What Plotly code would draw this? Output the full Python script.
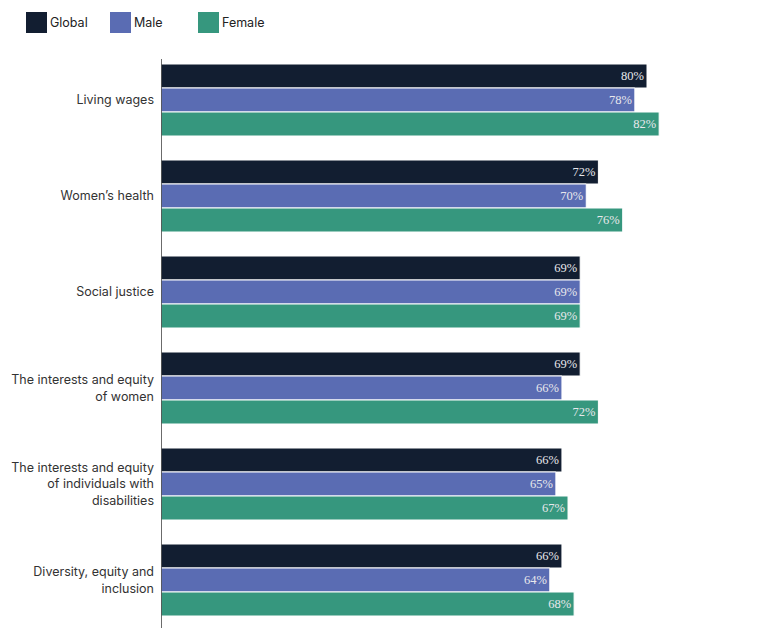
import plotly.graph_objects as go

categories = [
    "Living wages",
    "Women’s health",
    "Social justice",
    "The interests and equity<br>of women",
    "The interests and equity<br>of individuals with<br>disabilities",
    "Diversity, equity and<br>inclusion",
]
series_names = ["Global", "Male", "Female"]
global_vals = [80, 72, 69, 69, 66, 66]
male_vals = [78, 70, 69, 66, 65, 64]
female_vals = [82, 76, 69, 72, 67, 68]
colors = ["#121e31", "#5a6cb3", "#36977e"]

W, H = 758, 628
ML, MT = 161, 52
plot_w = W - ML
plot_h = H - MT
px_per_unit = 6.075
x_max = plot_w / px_per_unit

fig = go.Figure()
for name, vals, col in zip(series_names, [global_vals, male_vals, female_vals], colors):
    fig.add_trace(go.Bar(
        name=name,
        y=categories,
        x=vals,
        orientation="h",
        marker=dict(color=col, line=dict(color="white", width=1)),
        texttemplate="%{x}%",
        textposition="inside",
        insidetextanchor="end",
        textfont=dict(family="Liberation Serif, DejaVu Serif, serif", size=12.5, color="#e8e8ec"),
        showlegend=False,
        cliponaxis=False,
    ))

# custom legend: large square swatches with labels
legend_items = [(26, "Global"), (110, "Male"), (198, "Female")]
for (lx, name), col in zip(legend_items, colors):
    x0 = (lx - ML) / plot_w
    x1 = (lx + 21 - ML) / plot_w
    y0 = (H - 33) / plot_h
    y1 = (H - 12) / plot_h
    fig.add_shape(type="rect", xref="paper", yref="paper",
                  x0=x0, x1=x1, y0=y0, y1=y1,
                  fillcolor=col, line=dict(width=0))
    fig.add_annotation(xref="paper", yref="paper",
                       x=(lx + 22 - ML) / plot_w, y=(H - 22.5) / plot_h,
                       text=name, showarrow=False, xanchor="left", yanchor="middle",
                       font=dict(family="Inter, Roboto, sans-serif", size=12.5, color="#222"))

# vertical baseline at zero
fig.add_shape(type="line", xref="x", yref="paper",
              x0=0, x1=0, y0=0, y1=(H - 59) / plot_h,
              line=dict(color="#3a3a3a", width=1.5), layer="above")

fig.update_layout(
    width=W, height=H,
    margin=dict(l=ML, r=0, t=MT, b=0),
    barmode="group",
    bargap=0.25,
    bargroupgap=0,
    plot_bgcolor="white",
    paper_bgcolor="white",
    font=dict(family="Inter, Roboto, sans-serif", size=12, color="#333"),
)
fig.update_xaxes(range=[0, x_max], visible=False, fixedrange=True)
fig.update_yaxes(
    autorange="reversed",
    showline=False,
    showgrid=False, ticks="", ticklabelstandoff=6,
    tickfont=dict(family="Inter, Roboto, sans-serif", size=12.5, color="#333"),
)

fig.write_html("out.html")
